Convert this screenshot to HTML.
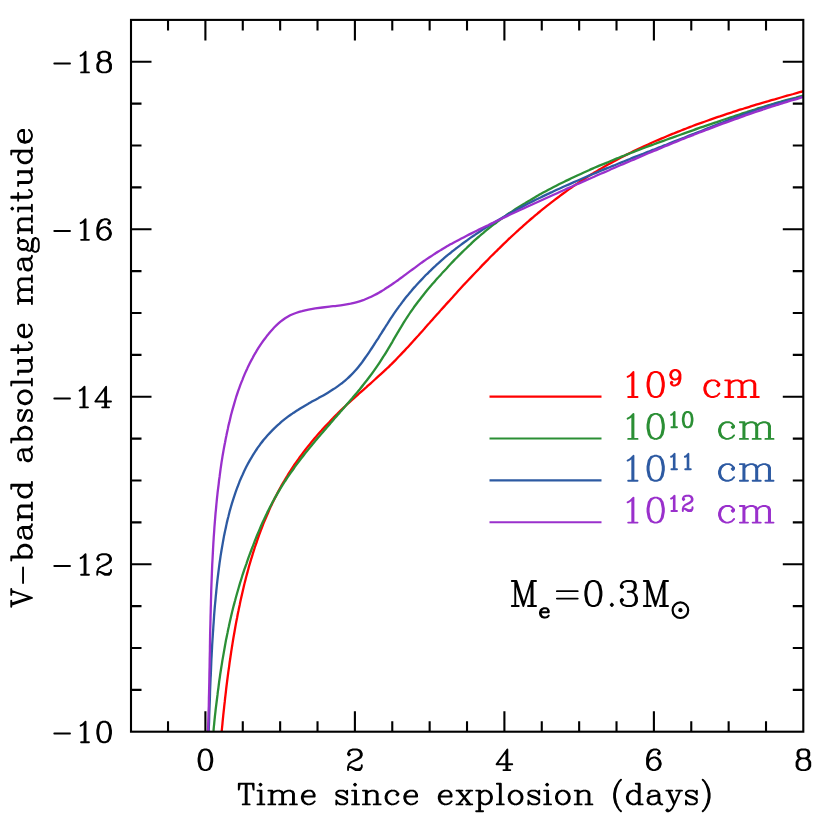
<!DOCTYPE html><html><head><meta charset="utf-8"><title>chart</title><style>html,body{margin:0;padding:0;background:#fff}svg{display:block}</style></head><body>
<svg width="830" height="822" viewBox="0 0 830 822">
<rect width="830" height="822" fill="#fff"/>
<defs><clipPath id="c"><rect x="131.0" y="19.9" width="672.3" height="711.8"/></clipPath></defs>
<g clip-path="url(#c)" fill="none" stroke-width="2.3" stroke-linejoin="round">
<path d="M220.5 745.1C220.6 743.8 220.9 740.2 221.1 737.7C221.3 735.3 221.6 732.8 221.8 730.4C222.0 728.0 222.3 725.5 222.5 723.1C222.7 720.7 223.0 718.2 223.2 715.8C223.5 713.4 223.7 711.0 224.0 708.6C224.2 706.2 224.5 703.8 224.8 701.4C225.0 699.0 225.3 696.6 225.6 694.2C225.9 691.8 226.1 689.4 226.4 687.0C226.7 684.7 227.0 682.3 227.3 679.9C227.6 677.5 227.9 675.2 228.2 672.8C228.5 670.5 228.9 668.1 229.2 665.8C229.5 663.4 229.8 661.1 230.2 658.8C230.5 656.4 230.9 654.1 231.2 651.8C231.6 649.5 231.9 647.2 232.3 644.9C232.7 642.6 233.0 640.3 233.4 638.0C233.8 635.7 234.2 633.4 234.6 631.2C235.0 628.9 235.4 626.7 235.8 624.4C236.2 622.1 236.6 619.9 237.1 617.7C237.5 615.4 237.9 613.2 238.4 611.0C238.8 608.8 239.3 606.6 239.8 604.4C240.2 602.2 240.7 600.0 241.2 597.8C241.7 595.6 242.2 593.4 242.7 591.3C243.2 589.1 243.7 587.0 244.2 584.8C244.7 582.7 245.3 580.6 245.8 578.4C246.4 576.3 246.9 574.2 247.5 572.1C248.1 570.0 248.6 567.9 249.2 565.8C249.8 563.8 250.4 561.7 251.0 559.6C251.7 557.6 252.3 555.5 252.9 553.5C253.5 551.5 254.2 549.5 254.8 547.4C255.5 545.4 256.2 543.4 256.9 541.5C257.5 539.5 258.2 537.5 258.9 535.5C259.7 533.6 260.4 531.6 261.1 529.7C261.8 527.8 262.6 525.9 263.3 523.9C264.1 522.0 264.9 520.1 265.7 518.3C266.5 516.4 267.3 514.5 268.1 512.7C268.9 510.8 269.7 509.0 270.5 507.1C271.4 505.3 272.2 503.5 273.1 501.7C274.0 499.9 274.9 498.1 275.8 496.4C276.7 494.6 277.6 492.8 278.5 491.1C279.4 489.4 280.4 487.7 281.3 485.9C282.3 484.2 283.3 482.5 284.3 480.9C285.3 479.2 286.3 477.5 287.3 475.9C288.3 474.2 289.3 472.6 290.4 471.0C291.4 469.3 292.5 467.7 293.5 466.1C294.6 464.5 295.7 463.0 296.8 461.4C297.9 459.8 299.0 458.3 300.1 456.7C301.3 455.2 302.4 453.7 303.5 452.1C304.7 450.6 305.9 449.1 307.0 447.6C308.2 446.1 309.4 444.7 310.6 443.2C311.8 441.7 313.0 440.3 314.2 438.8C315.4 437.4 316.7 435.9 317.9 434.5C319.1 433.1 320.4 431.7 321.7 430.3C322.9 428.9 324.2 427.5 325.5 426.1C326.8 424.7 328.1 423.3 329.4 422.0C330.7 420.6 332.0 419.2 333.3 417.9C334.6 416.5 335.9 415.2 337.3 413.9C338.6 412.6 340.0 411.2 341.3 409.9C342.7 408.6 344.1 407.3 345.4 406.0C346.8 404.7 348.2 403.4 349.6 402.2C351.0 400.9 352.4 399.6 353.8 398.4C355.2 397.1 356.6 395.8 358.0 394.6C359.4 393.3 360.8 392.1 362.2 390.8C363.6 389.6 365.0 388.3 366.5 387.1C367.9 385.8 369.3 384.6 370.7 383.3C372.1 382.1 373.5 380.8 374.9 379.5C376.3 378.3 377.7 377.0 379.1 375.7C380.5 374.5 381.9 373.2 383.3 371.9C384.7 370.6 386.1 369.3 387.4 368.0C388.8 366.7 390.1 365.4 391.5 364.1C392.8 362.8 394.2 361.4 395.5 360.1C396.8 358.7 398.1 357.4 399.4 356.0C400.7 354.7 402.0 353.3 403.3 351.9C404.6 350.5 405.9 349.2 407.2 347.8C408.5 346.4 409.7 345.0 411.0 343.6C412.3 342.2 413.5 340.8 414.8 339.4C416.1 338.0 417.3 336.6 418.6 335.2C419.8 333.8 421.1 332.4 422.4 331.0C423.6 329.5 424.9 328.1 426.1 326.7C427.4 325.3 428.6 323.9 429.9 322.5C431.1 321.1 432.4 319.7 433.6 318.2C434.9 316.8 436.2 315.4 437.4 314.0C438.7 312.6 439.9 311.2 441.2 309.8C442.4 308.4 443.7 307.0 445.0 305.6C446.2 304.2 447.5 302.8 448.8 301.4C450.0 300.0 451.3 298.6 452.6 297.2C453.8 295.8 455.1 294.4 456.4 293.0C457.6 291.6 458.9 290.2 460.2 288.8C461.5 287.4 462.8 286.0 464.0 284.6C465.3 283.3 466.6 281.9 467.9 280.5C469.2 279.1 470.5 277.7 471.8 276.4C473.1 275.0 474.4 273.6 475.7 272.3C477.0 270.9 478.3 269.5 479.6 268.2C480.9 266.8 482.2 265.5 483.5 264.1C484.8 262.7 486.1 261.4 487.5 260.1C488.8 258.7 490.1 257.4 491.4 256.0C492.8 254.7 494.1 253.4 495.4 252.0C496.8 250.7 498.1 249.4 499.5 248.1C500.8 246.8 502.2 245.4 503.5 244.1C504.9 242.8 506.3 241.5 507.6 240.2C509.0 238.9 510.4 237.6 511.7 236.3C513.1 235.1 514.5 233.8 515.9 232.5C517.3 231.2 518.7 230.0 520.1 228.7C521.5 227.4 522.9 226.2 524.3 224.9C525.7 223.7 527.1 222.4 528.6 221.2C530.0 219.9 531.4 218.7 532.9 217.5C534.3 216.2 535.8 215.0 537.2 213.8C538.7 212.6 540.1 211.4 541.6 210.2C543.1 209.0 544.5 207.8 546.0 206.6C547.5 205.4 549.0 204.3 550.5 203.1C552.0 201.9 553.5 200.8 555.0 199.6C556.5 198.4 558.0 197.3 559.6 196.2C561.1 195.0 562.6 193.9 564.2 192.8C565.7 191.6 567.3 190.5 568.8 189.4C570.4 188.3 572.0 187.2 573.5 186.1C575.1 185.0 576.7 184.0 578.3 182.9C579.9 181.8 581.5 180.8 583.1 179.7C584.7 178.7 586.3 177.6 588.0 176.6C589.6 175.5 591.3 174.5 592.9 173.5C594.6 172.5 596.2 171.5 597.9 170.5C599.6 169.5 601.2 168.5 602.9 167.5C604.6 166.6 606.3 165.6 608.0 164.6C609.7 163.7 611.5 162.7 613.2 161.8C614.9 160.8 616.6 159.9 618.4 159.0C620.1 158.1 621.9 157.1 623.6 156.2C625.4 155.3 627.2 154.4 628.9 153.5C630.7 152.6 632.5 151.8 634.3 150.9C636.1 150.0 637.9 149.2 639.7 148.3C641.5 147.4 643.3 146.6 645.1 145.7C647.0 144.9 648.8 144.1 650.6 143.2C652.5 142.4 654.3 141.6 656.2 140.8C658.0 140.0 659.9 139.2 661.8 138.4C663.6 137.6 665.5 136.8 667.4 136.0C669.3 135.2 671.2 134.4 673.1 133.7C675.0 132.9 676.9 132.1 678.8 131.4C680.7 130.6 682.6 129.9 684.5 129.1C686.4 128.4 688.4 127.6 690.3 126.9C692.2 126.2 694.2 125.4 696.1 124.7C698.1 124.0 700.0 123.3 702.0 122.6C703.9 121.9 705.9 121.2 707.9 120.5C709.8 119.8 711.8 119.1 713.8 118.4C715.8 117.7 717.8 117.0 719.8 116.4C721.7 115.7 723.7 115.0 725.7 114.3C727.7 113.7 729.8 113.0 731.8 112.4C733.8 111.7 735.8 111.1 737.8 110.4C739.8 109.8 741.9 109.1 743.9 108.5C745.9 107.9 748.0 107.2 750.0 106.6C752.0 106.0 754.1 105.3 756.1 104.7C758.2 104.1 760.2 103.5 762.3 102.9C764.3 102.3 766.4 101.7 768.5 101.1C770.5 100.4 772.6 99.8 774.7 99.3C776.7 98.7 778.8 98.1 780.9 97.5C782.9 96.9 785.0 96.3 787.1 95.7C789.2 95.1 791.3 94.5 793.4 94.0C795.5 93.4 797.5 92.8 799.6 92.2C801.7 91.7 803.8 91.1 805.9 90.5C808.0 90.0 810.9 89.2 812.2 88.8C813.6 88.5 813.9 88.4 814.2 88.3" stroke="#ff0000"/>
<path d="M212.1 745.5C212.2 744.3 212.5 740.6 212.8 738.2C213.0 735.7 213.2 733.3 213.5 730.9C213.7 728.4 213.9 726.0 214.2 723.6C214.4 721.2 214.7 718.7 214.9 716.3C215.2 713.9 215.5 711.5 215.7 709.1C216.0 706.7 216.3 704.4 216.6 702.0C216.9 699.6 217.2 697.2 217.5 694.9C217.7 692.5 218.1 690.1 218.4 687.8C218.7 685.4 219.0 683.1 219.3 680.7C219.7 678.4 220.0 676.1 220.3 673.7C220.7 671.4 221.0 669.1 221.4 666.8C221.8 664.5 222.1 662.2 222.5 659.9C222.9 657.6 223.3 655.3 223.7 653.1C224.1 650.8 224.5 648.5 224.9 646.3C225.3 644.0 225.7 641.8 226.1 639.5C226.6 637.3 227.0 635.1 227.5 632.9C227.9 630.7 228.4 628.4 228.9 626.3C229.3 624.1 229.8 621.9 230.3 619.7C230.8 617.5 231.3 615.4 231.8 613.2C232.3 611.1 232.9 608.9 233.4 606.8C234.0 604.7 234.5 602.6 235.1 600.5C235.6 598.4 236.2 596.3 236.8 594.2C237.4 592.1 238.0 590.0 238.6 588.0C239.2 585.9 239.8 583.9 240.4 581.8C241.1 579.8 241.7 577.8 242.3 575.7C243.0 573.7 243.7 571.7 244.3 569.7C245.0 567.7 245.7 565.7 246.4 563.8C247.0 561.8 247.7 559.8 248.4 557.8C249.1 555.9 249.9 553.9 250.6 552.0C251.3 550.0 252.0 548.1 252.8 546.2C253.5 544.3 254.3 542.3 255.0 540.4C255.8 538.5 256.6 536.6 257.3 534.7C258.1 532.9 258.9 531.0 259.7 529.1C260.5 527.2 261.3 525.4 262.1 523.5C263.0 521.7 263.8 519.9 264.7 518.1C265.5 516.2 266.4 514.4 267.2 512.6C268.1 510.8 269.0 509.1 269.9 507.3C270.8 505.5 271.7 503.8 272.6 502.0C273.6 500.3 274.5 498.6 275.5 496.9C276.4 495.2 277.4 493.5 278.4 491.8C279.4 490.1 280.4 488.5 281.4 486.8C282.4 485.2 283.5 483.5 284.5 481.9C285.6 480.3 286.6 478.7 287.7 477.1C288.8 475.5 289.9 473.9 291.0 472.4C292.1 470.8 293.2 469.2 294.3 467.7C295.4 466.1 296.5 464.6 297.7 463.1C298.8 461.6 300.0 460.0 301.1 458.5C302.3 457.0 303.5 455.5 304.6 454.0C305.8 452.5 307.0 451.1 308.2 449.6C309.4 448.1 310.6 446.6 311.8 445.2C313.0 443.7 314.2 442.3 315.4 440.8C316.6 439.4 317.8 437.9 319.1 436.5C320.3 435.0 321.5 433.6 322.8 432.2C324.0 430.7 325.2 429.3 326.5 427.9C327.7 426.4 328.9 425.0 330.2 423.6C331.4 422.2 332.7 420.7 333.9 419.3C335.1 417.9 336.4 416.5 337.6 415.0C338.9 413.6 340.1 412.2 341.4 410.8C342.6 409.3 343.9 407.9 345.1 406.5C346.3 405.1 347.6 403.6 348.8 402.2C350.0 400.8 351.3 399.3 352.5 397.9C353.7 396.5 354.9 395.0 356.2 393.6C357.4 392.1 358.6 390.6 359.8 389.2C361.0 387.7 362.2 386.2 363.3 384.7C364.5 383.3 365.7 381.8 366.9 380.3C368.0 378.8 369.2 377.2 370.3 375.7C371.5 374.2 372.6 372.7 373.7 371.1C374.8 369.6 375.9 368.0 377.0 366.4C378.1 364.8 379.2 363.2 380.2 361.6C381.3 360.0 382.3 358.4 383.3 356.7C384.4 355.1 385.4 353.5 386.4 351.8C387.4 350.1 388.4 348.5 389.4 346.8C390.4 345.1 391.4 343.4 392.4 341.8C393.3 340.1 394.3 338.4 395.3 336.7C396.3 335.0 397.3 333.4 398.3 331.7C399.3 330.0 400.3 328.3 401.3 326.7C402.3 325.0 403.3 323.4 404.3 321.7C405.3 320.1 406.4 318.4 407.4 316.8C408.5 315.2 409.6 313.6 410.6 312.0C411.7 310.5 412.8 308.9 413.9 307.3C415.0 305.8 416.2 304.2 417.3 302.7C418.5 301.2 419.6 299.7 420.8 298.2C422.0 296.7 423.1 295.2 424.3 293.7C425.5 292.3 426.7 290.8 427.9 289.3C429.2 287.9 430.4 286.4 431.6 285.0C432.8 283.6 434.1 282.2 435.3 280.7C436.6 279.3 437.8 277.9 439.1 276.5C440.4 275.1 441.6 273.7 442.9 272.3C444.2 270.9 445.5 269.5 446.8 268.2C448.0 266.8 449.3 265.4 450.6 264.0C451.9 262.7 453.2 261.3 454.5 259.9C455.9 258.6 457.2 257.2 458.5 255.9C459.8 254.6 461.2 253.2 462.5 251.9C463.8 250.6 465.2 249.3 466.6 248.0C467.9 246.6 469.3 245.3 470.7 244.1C472.0 242.8 473.4 241.5 474.8 240.2C476.2 239.0 477.6 237.7 479.1 236.5C480.5 235.2 481.9 234.0 483.4 232.8C484.8 231.6 486.3 230.4 487.8 229.2C489.2 228.0 490.7 226.8 492.2 225.6C493.7 224.5 495.2 223.3 496.8 222.2C498.3 221.0 499.8 219.9 501.4 218.8C502.9 217.7 504.5 216.6 506.1 215.5C507.6 214.4 509.2 213.3 510.8 212.2C512.4 211.1 514.0 210.1 515.6 209.0C517.2 208.0 518.9 206.9 520.5 205.9C522.1 204.9 523.8 203.9 525.5 202.9C527.1 201.8 528.8 200.8 530.5 199.9C532.1 198.9 533.8 197.9 535.5 196.9C537.2 195.9 538.9 195.0 540.6 194.0C542.3 193.1 544.1 192.1 545.8 191.2C547.5 190.3 549.3 189.3 551.0 188.4C552.8 187.5 554.5 186.6 556.3 185.7C558.1 184.8 559.8 183.9 561.6 183.0C563.4 182.1 565.2 181.3 567.0 180.4C568.8 179.5 570.6 178.7 572.4 177.8C574.2 176.9 576.0 176.1 577.8 175.2C579.7 174.4 581.5 173.6 583.3 172.7C585.2 171.9 587.0 171.1 588.9 170.3C590.7 169.4 592.6 168.6 594.4 167.8C596.3 167.0 598.2 166.2 600.0 165.4C601.9 164.6 603.8 163.8 605.7 163.1C607.5 162.3 609.4 161.5 611.3 160.7C613.2 159.9 615.1 159.2 617.0 158.4C618.9 157.6 620.8 156.9 622.7 156.1C624.6 155.4 626.6 154.6 628.5 153.9C630.4 153.1 632.3 152.4 634.2 151.6C636.2 150.9 638.1 150.2 640.0 149.4C642.0 148.7 643.9 148.0 645.8 147.2C647.8 146.5 649.7 145.8 651.7 145.1C653.6 144.4 655.6 143.6 657.5 142.9C659.5 142.2 661.4 141.5 663.4 140.8C665.4 140.1 667.3 139.4 669.3 138.7C671.2 138.0 673.2 137.3 675.2 136.6C677.1 135.9 679.1 135.2 681.1 134.5C683.0 133.8 685.0 133.1 687.0 132.4C689.0 131.7 690.9 131.0 692.9 130.3C694.9 129.6 696.9 128.9 698.8 128.2C700.8 127.5 702.8 126.9 704.8 126.2C706.8 125.5 708.7 124.8 710.7 124.1C712.7 123.4 714.7 122.7 716.7 122.1C718.7 121.4 720.6 120.7 722.6 120.0C724.6 119.4 726.6 118.7 728.6 118.0C730.6 117.3 732.6 116.7 734.6 116.0C736.6 115.3 738.6 114.7 740.6 114.0C742.6 113.4 744.6 112.7 746.7 112.1C748.7 111.4 750.7 110.8 752.7 110.1C754.8 109.5 756.8 108.8 758.8 108.2C760.9 107.6 762.9 107.0 764.9 106.3C767.0 105.7 769.0 105.1 771.1 104.5C773.2 103.9 775.2 103.3 777.3 102.7C779.4 102.1 781.4 101.5 783.5 100.9C785.6 100.3 787.7 99.7 789.8 99.2C791.9 98.6 794.0 98.0 796.1 97.5C798.2 96.9 800.3 96.4 802.4 95.8C804.6 95.3 806.8 94.7 808.8 94.2C810.9 93.7 813.7 93.1 814.6 92.8" stroke="#2b8f35"/>
<path d="M208.3 744.4C208.3 743.1 208.5 739.2 208.6 736.7C208.6 734.1 208.7 731.5 208.8 728.9C208.9 726.3 209.0 723.7 209.1 721.2C209.2 718.6 209.2 716.0 209.3 713.4C209.4 710.8 209.5 708.3 209.6 705.7C209.7 703.1 209.8 700.5 209.9 698.0C210.0 695.4 210.0 692.8 210.1 690.2C210.2 687.7 210.3 685.1 210.4 682.5C210.5 680.0 210.6 677.4 210.8 674.9C210.9 672.3 211.0 669.7 211.1 667.2C211.2 664.6 211.3 662.1 211.4 659.5C211.6 657.0 211.7 654.5 211.8 651.9C212.0 649.4 212.1 646.9 212.2 644.3C212.4 641.8 212.5 639.3 212.7 636.8C212.8 634.3 213.0 631.8 213.2 629.3C213.3 626.8 213.5 624.3 213.7 621.8C213.9 619.3 214.0 616.8 214.2 614.3C214.4 611.9 214.6 609.4 214.8 606.9C215.0 604.5 215.3 602.0 215.5 599.6C215.7 597.1 215.9 594.7 216.2 592.3C216.4 589.8 216.7 587.4 216.9 585.0C217.2 582.6 217.4 580.2 217.7 577.8C218.0 575.4 218.3 573.1 218.6 570.7C218.9 568.3 219.2 566.0 219.5 563.6C219.8 561.3 220.2 558.9 220.5 556.6C220.9 554.3 221.2 552.0 221.6 549.7C222.0 547.4 222.4 545.1 222.8 542.9C223.2 540.6 223.6 538.4 224.0 536.1C224.5 533.9 224.9 531.7 225.4 529.5C225.9 527.3 226.3 525.1 226.8 522.9C227.3 520.8 227.8 518.6 228.4 516.5C228.9 514.4 229.5 512.2 230.0 510.1C230.6 508.0 231.2 506.0 231.8 503.9C232.4 501.9 233.1 499.8 233.7 497.8C234.4 495.8 235.0 493.8 235.7 491.8C236.4 489.9 237.1 487.9 237.9 486.0C238.6 484.0 239.4 482.1 240.1 480.2C240.9 478.4 241.7 476.5 242.6 474.7C243.4 472.8 244.2 471.0 245.1 469.2C246.0 467.4 246.9 465.7 247.8 463.9C248.8 462.2 249.7 460.5 250.7 458.8C251.7 457.1 252.7 455.5 253.7 453.8C254.8 452.2 255.8 450.6 256.9 449.0C258.0 447.4 259.1 445.9 260.2 444.3C261.4 442.8 262.6 441.3 263.7 439.8C264.9 438.4 266.2 436.9 267.4 435.5C268.7 434.1 270.0 432.7 271.3 431.4C272.6 430.0 273.9 428.7 275.3 427.4C276.6 426.1 278.0 424.8 279.5 423.6C280.9 422.3 282.3 421.1 283.8 419.9C285.3 418.7 286.8 417.6 288.3 416.4C289.9 415.3 291.4 414.2 293.0 413.1C294.6 412.1 296.2 411.0 297.9 410.0C299.5 408.9 301.1 407.9 302.8 406.9C304.5 405.9 306.2 404.9 307.9 404.0C309.6 403.0 311.3 402.1 313.0 401.1C314.7 400.2 316.5 399.2 318.2 398.3C319.9 397.3 321.6 396.4 323.3 395.4C325.0 394.4 326.7 393.4 328.3 392.4C330.0 391.4 331.6 390.4 333.2 389.3C334.9 388.3 336.4 387.2 338.0 386.1C339.6 385.0 341.1 383.8 342.6 382.7C344.1 381.5 345.5 380.3 346.9 379.0C348.3 377.8 349.7 376.5 351.0 375.1C352.4 373.8 353.7 372.4 354.9 371.0C356.2 369.6 357.4 368.2 358.6 366.7C359.8 365.2 360.9 363.7 362.1 362.2C363.2 360.7 364.3 359.1 365.4 357.5C366.5 356.0 367.6 354.4 368.7 352.8C369.8 351.2 370.8 349.6 371.9 348.0C373.0 346.4 374.0 344.8 375.0 343.1C376.1 341.5 377.1 339.9 378.2 338.3C379.2 336.6 380.2 335.0 381.3 333.4C382.3 331.7 383.3 330.1 384.4 328.5C385.4 326.8 386.4 325.2 387.5 323.6C388.5 322.0 389.6 320.3 390.6 318.7C391.7 317.1 392.8 315.5 393.8 313.9C394.9 312.4 396.0 310.8 397.1 309.2C398.2 307.7 399.3 306.1 400.5 304.6C401.6 303.0 402.8 301.5 403.9 300.0C405.1 298.5 406.3 297.0 407.5 295.6C408.7 294.1 409.9 292.6 411.1 291.2C412.3 289.7 413.5 288.3 414.8 286.9C416.0 285.5 417.3 284.1 418.6 282.7C419.9 281.3 421.2 279.9 422.5 278.6C423.8 277.2 425.1 275.9 426.4 274.5C427.8 273.2 429.1 271.9 430.5 270.6C431.8 269.2 433.2 268.0 434.6 266.7C435.9 265.4 437.3 264.1 438.8 262.9C440.2 261.6 441.6 260.3 443.0 259.1C444.4 257.9 445.9 256.7 447.3 255.4C448.8 254.2 450.3 253.0 451.7 251.8C453.2 250.7 454.7 249.5 456.2 248.3C457.7 247.2 459.2 246.0 460.8 244.9C462.3 243.7 463.8 242.6 465.4 241.5C466.9 240.3 468.5 239.2 470.0 238.1C471.6 237.0 473.2 235.9 474.8 234.9C476.3 233.8 477.9 232.7 479.6 231.7C481.2 230.6 482.8 229.5 484.4 228.5C486.0 227.5 487.7 226.4 489.3 225.4C491.0 224.4 492.6 223.4 494.3 222.4C495.9 221.4 497.6 220.4 499.3 219.4C501.0 218.4 502.7 217.4 504.4 216.5C506.1 215.5 507.8 214.5 509.5 213.6C511.2 212.6 512.9 211.7 514.6 210.7C516.4 209.8 518.1 208.9 519.9 208.0C521.6 207.0 523.4 206.1 525.1 205.2C526.9 204.3 528.6 203.4 530.4 202.5C532.2 201.6 534.0 200.7 535.7 199.8C537.5 199.0 539.3 198.1 541.1 197.2C542.9 196.3 544.7 195.5 546.5 194.6C548.3 193.8 550.1 192.9 552.0 192.1C553.8 191.2 555.6 190.4 557.4 189.5C559.3 188.7 561.1 187.9 562.9 187.0C564.8 186.2 566.6 185.4 568.5 184.6C570.3 183.8 572.2 182.9 574.0 182.1C575.9 181.3 577.8 180.5 579.6 179.7C581.5 178.9 583.3 178.1 585.2 177.3C587.1 176.5 589.0 175.7 590.8 174.9C592.7 174.1 594.6 173.4 596.5 172.6C598.4 171.8 600.2 171.0 602.1 170.2C604.0 169.5 605.9 168.7 607.8 167.9C609.7 167.1 611.6 166.4 613.5 165.6C615.4 164.8 617.3 164.1 619.2 163.3C621.1 162.5 623.0 161.8 624.9 161.0C626.8 160.2 628.7 159.5 630.6 158.7C632.5 158.0 634.4 157.2 636.3 156.4C638.3 155.7 640.2 154.9 642.1 154.2C644.0 153.4 645.9 152.7 647.8 151.9C649.7 151.2 651.6 150.4 653.6 149.7C655.5 148.9 657.4 148.2 659.3 147.4C661.2 146.7 663.1 145.9 665.1 145.2C667.0 144.4 668.9 143.7 670.8 142.9C672.7 142.2 674.6 141.4 676.5 140.6C678.5 139.9 680.4 139.1 682.3 138.4C684.2 137.6 686.1 136.9 688.0 136.1C689.9 135.4 691.8 134.6 693.8 133.9C695.7 133.1 697.6 132.3 699.5 131.6C701.4 130.8 703.3 130.1 705.2 129.3C707.1 128.5 709.0 127.8 710.9 127.0C712.8 126.3 714.7 125.5 716.6 124.7C718.5 124.0 720.5 123.2 722.4 122.5C724.3 121.7 726.2 121.0 728.1 120.2C730.1 119.5 732.0 118.7 733.9 118.0C735.8 117.3 737.8 116.5 739.7 115.8C741.7 115.1 743.6 114.4 745.6 113.7C747.5 113.0 749.5 112.3 751.5 111.6C753.4 110.9 755.4 110.2 757.4 109.5C759.4 108.8 761.4 108.2 763.4 107.5C765.4 106.8 767.4 106.2 769.5 105.6C771.5 104.9 773.5 104.3 775.6 103.7C777.7 103.1 779.7 102.5 781.8 101.9C783.9 101.3 786.0 100.8 788.1 100.2C790.2 99.7 792.3 99.1 794.5 98.6C796.6 98.1 798.8 97.6 801.0 97.1C803.1 96.6 805.3 96.1 807.5 95.6C809.8 95.2 813.0 94.6 814.2 94.3C815.5 94.1 814.9 94.2 815.1 94.2" stroke="#2d5aa2"/>
<path d="M207.5 744.6C207.5 743.3 207.7 739.5 207.8 736.9C207.9 734.3 208.0 731.7 208.1 729.2C208.2 726.6 208.2 724.0 208.3 721.4C208.4 718.8 208.5 716.2 208.5 713.6C208.6 711.1 208.7 708.5 208.8 705.9C208.8 703.3 208.9 700.6 208.9 698.0C209.0 695.4 209.1 692.8 209.1 690.2C209.2 687.6 209.2 685.0 209.3 682.4C209.3 679.8 209.4 677.1 209.4 674.5C209.5 671.9 209.5 669.3 209.6 666.7C209.6 664.1 209.7 661.4 209.7 658.8C209.8 656.2 209.8 653.6 209.9 651.0C209.9 648.3 209.9 645.7 210.0 643.1C210.0 640.5 210.1 637.9 210.1 635.2C210.2 632.6 210.2 630.0 210.3 627.4C210.4 624.8 210.4 622.2 210.5 619.6C210.5 617.0 210.6 614.4 210.7 611.8C210.7 609.1 210.8 606.5 210.9 604.0C210.9 601.4 211.0 598.8 211.1 596.2C211.2 593.6 211.2 591.0 211.3 588.4C211.4 585.8 211.5 583.3 211.6 580.7C211.7 578.1 211.8 575.6 211.9 573.0C212.0 570.4 212.1 567.9 212.2 565.3C212.3 562.8 212.5 560.2 212.6 557.7C212.7 555.2 212.9 552.6 213.0 550.1C213.1 547.6 213.3 545.0 213.4 542.5C213.6 540.0 213.7 537.5 213.9 535.0C214.1 532.5 214.3 530.0 214.4 527.5C214.6 525.1 214.8 522.6 215.0 520.1C215.2 517.6 215.4 515.2 215.6 512.7C215.9 510.3 216.1 507.8 216.3 505.4C216.5 503.0 216.8 500.5 217.0 498.1C217.3 495.7 217.5 493.3 217.8 490.9C218.1 488.5 218.4 486.1 218.7 483.8C218.9 481.4 219.2 479.0 219.6 476.7C219.9 474.3 220.2 472.0 220.5 469.6C220.8 467.3 221.2 465.0 221.5 462.6C221.9 460.3 222.3 458.0 222.6 455.7C223.0 453.5 223.4 451.2 223.8 448.9C224.2 446.6 224.6 444.4 225.1 442.2C225.5 439.9 225.9 437.7 226.4 435.5C226.8 433.3 227.3 431.1 227.8 428.9C228.2 426.7 228.7 424.5 229.3 422.4C229.8 420.2 230.3 418.1 230.8 415.9C231.4 413.8 231.9 411.7 232.5 409.6C233.1 407.5 233.7 405.4 234.3 403.4C234.9 401.3 235.5 399.3 236.1 397.2C236.8 395.2 237.5 393.2 238.1 391.2C238.8 389.3 239.5 387.3 240.2 385.3C241.0 383.4 241.7 381.5 242.5 379.6C243.2 377.7 244.0 375.8 244.8 373.9C245.6 372.1 246.4 370.2 247.3 368.4C248.1 366.6 249.0 364.8 249.9 363.0C250.8 361.2 251.7 359.5 252.7 357.8C253.6 356.0 254.6 354.3 255.6 352.7C256.5 351.0 257.6 349.3 258.6 347.7C259.6 346.1 260.7 344.5 261.8 342.9C262.9 341.3 264.0 339.8 265.2 338.3C266.3 336.7 267.5 335.2 268.7 333.8C269.9 332.3 271.1 330.9 272.4 329.5C273.6 328.1 274.9 326.7 276.3 325.4C277.7 324.1 279.1 322.8 280.5 321.6C282.0 320.4 283.5 319.3 285.1 318.2C286.8 317.2 288.5 316.2 290.2 315.3C292.0 314.5 293.9 313.7 295.9 313.0C297.8 312.3 299.9 311.6 302.0 311.1C304.1 310.5 306.3 310.0 308.5 309.6C310.7 309.2 313.0 308.8 315.3 308.4C317.6 308.1 320.0 307.8 322.4 307.5C324.7 307.2 327.1 306.9 329.5 306.6C331.9 306.3 334.3 306.1 336.7 305.8C339.1 305.5 341.4 305.2 343.7 304.8C346.0 304.5 348.3 304.1 350.6 303.7C352.8 303.2 354.9 302.7 357.0 302.1C359.1 301.5 361.1 300.9 363.1 300.2C365.0 299.4 366.9 298.7 368.7 297.8C370.6 297.0 372.4 296.1 374.1 295.2C375.9 294.3 377.6 293.4 379.3 292.4C381.0 291.4 382.6 290.4 384.3 289.4C385.9 288.3 387.5 287.3 389.1 286.2C390.7 285.2 392.3 284.1 393.9 283.0C395.5 281.9 397.0 280.8 398.6 279.7C400.1 278.6 401.7 277.4 403.2 276.3C404.8 275.2 406.3 274.0 407.8 272.9C409.3 271.8 410.9 270.6 412.4 269.5C413.9 268.4 415.5 267.2 417.0 266.1C418.5 265.0 420.1 263.8 421.6 262.7C423.2 261.6 424.7 260.5 426.3 259.4C427.9 258.3 429.5 257.2 431.1 256.2C432.7 255.1 434.3 254.1 435.9 253.0C437.6 252.0 439.2 251.0 440.9 250.0C442.5 249.0 444.2 248.0 445.9 247.0C447.6 246.0 449.3 245.1 451.0 244.1C452.7 243.2 454.4 242.2 456.2 241.3C457.9 240.3 459.7 239.4 461.4 238.5C463.2 237.6 464.9 236.7 466.7 235.8C468.4 234.9 470.2 234.0 472.0 233.1C473.8 232.2 475.5 231.3 477.3 230.4C479.1 229.5 480.9 228.7 482.7 227.8C484.5 226.9 486.3 226.0 488.1 225.2C489.9 224.3 491.7 223.4 493.5 222.6C495.3 221.7 497.1 220.8 498.9 220.0C500.7 219.1 502.5 218.3 504.3 217.4C506.1 216.5 507.9 215.7 509.7 214.8C511.5 214.0 513.4 213.1 515.2 212.3C517.0 211.4 518.8 210.6 520.6 209.7C522.5 208.9 524.3 208.1 526.1 207.2C527.9 206.4 529.8 205.5 531.6 204.7C533.4 203.9 535.3 203.0 537.1 202.2C538.9 201.4 540.8 200.5 542.6 199.7C544.4 198.9 546.3 198.0 548.1 197.2C549.9 196.4 551.8 195.5 553.6 194.7C555.5 193.9 557.3 193.1 559.1 192.2C561.0 191.4 562.8 190.6 564.7 189.8C566.5 188.9 568.4 188.1 570.2 187.3C572.0 186.5 573.9 185.7 575.7 184.8C577.6 184.0 579.4 183.2 581.3 182.4C583.1 181.6 585.0 180.7 586.8 179.9C588.7 179.1 590.5 178.3 592.4 177.5C594.2 176.7 596.1 175.9 597.9 175.0C599.8 174.2 601.6 173.4 603.5 172.6C605.3 171.8 607.2 171.0 609.1 170.2C610.9 169.3 612.8 168.5 614.6 167.7C616.5 166.9 618.3 166.1 620.2 165.3C622.1 164.5 623.9 163.7 625.8 162.9C627.6 162.1 629.5 161.3 631.4 160.5C633.2 159.7 635.1 158.9 637.0 158.1C638.8 157.3 640.7 156.5 642.6 155.7C644.5 154.9 646.3 154.1 648.2 153.3C650.1 152.5 652.0 151.7 653.8 150.9C655.7 150.2 657.6 149.4 659.5 148.6C661.4 147.8 663.3 147.0 665.1 146.2C667.0 145.5 668.9 144.7 670.8 143.9C672.7 143.1 674.6 142.4 676.5 141.6C678.4 140.8 680.3 140.1 682.2 139.3C684.1 138.5 686.0 137.8 687.9 137.0C689.8 136.3 691.7 135.5 693.7 134.8C695.6 134.0 697.5 133.2 699.4 132.5C701.3 131.8 703.2 131.0 705.2 130.3C707.1 129.5 709.0 128.8 711.0 128.1C712.9 127.3 714.8 126.6 716.8 125.9C718.7 125.1 720.7 124.4 722.6 123.7C724.5 123.0 726.5 122.3 728.5 121.6C730.4 120.8 732.4 120.1 734.3 119.4C736.3 118.7 738.3 118.0 740.2 117.3C742.2 116.6 744.2 115.9 746.1 115.2C748.1 114.6 750.1 113.9 752.1 113.2C754.1 112.5 756.1 111.8 758.1 111.2C760.1 110.5 762.1 109.8 764.1 109.2C766.1 108.5 768.1 107.8 770.1 107.2C772.1 106.5 774.1 105.9 776.1 105.2C778.2 104.6 780.2 103.9 782.2 103.3C784.2 102.7 786.3 102.0 788.3 101.4C790.4 100.8 792.4 100.2 794.5 99.6C796.5 98.9 798.6 98.3 800.6 97.7C802.7 97.1 804.8 96.5 806.8 95.9C808.9 95.3 811.9 94.5 813.1 94.2C814.3 93.8 813.8 94.0 813.9 93.9" stroke="#9a30cc"/>
</g>
<path d="M168.03 731.70v-10.5M168.03 19.90v10.5M205.40 731.70v-20.5M205.40 19.90v20.5M242.78 731.70v-10.5M242.78 19.90v10.5M280.15 731.70v-10.5M280.15 19.90v10.5M317.52 731.70v-10.5M317.52 19.90v10.5M354.90 731.70v-20.5M354.90 19.90v20.5M392.27 731.70v-10.5M392.27 19.90v10.5M429.65 731.70v-10.5M429.65 19.90v10.5M467.02 731.70v-10.5M467.02 19.90v10.5M504.40 731.70v-20.5M504.40 19.90v20.5M541.77 731.70v-10.5M541.77 19.90v10.5M579.15 731.70v-10.5M579.15 19.90v10.5M616.52 731.70v-10.5M616.52 19.90v10.5M653.90 731.70v-20.5M653.90 19.90v20.5M691.27 731.70v-10.5M691.27 19.90v10.5M728.65 731.70v-10.5M728.65 19.90v10.5M766.02 731.70v-10.5M766.02 19.90v10.5M131.00 689.83h10.5M803.30 689.83h-10.5M131.00 647.96h10.5M803.30 647.96h-10.5M131.00 606.09h10.5M803.30 606.09h-10.5M131.00 564.22h20.5M803.30 564.22h-20.5M131.00 522.35h10.5M803.30 522.35h-10.5M131.00 480.48h10.5M803.30 480.48h-10.5M131.00 438.61h10.5M803.30 438.61h-10.5M131.00 396.74h20.5M803.30 396.74h-20.5M131.00 354.87h10.5M803.30 354.87h-10.5M131.00 313.00h10.5M803.30 313.00h-10.5M131.00 271.13h10.5M803.30 271.13h-10.5M131.00 229.26h20.5M803.30 229.26h-20.5M131.00 187.39h10.5M803.30 187.39h-10.5M131.00 145.52h10.5M803.30 145.52h-10.5M131.00 103.65h10.5M803.30 103.65h-10.5M131.00 61.78h20.5M803.30 61.78h-20.5" stroke="#000" stroke-width="2.1" fill="none"/>
<rect x="131.00" y="19.90" width="672.30" height="711.80" fill="none" stroke="#000" stroke-width="2.1"/>
<g fill="none" stroke-linecap="round" stroke-linejoin="round">
<path transform="translate(74.74,742.30) scale(0.9800,0.9800)" d="M11 0l0 -21l-3 3l-2 1M10 -20l0 20M6.5 0l8 0M31 0l3 -1l2 -3l1 -5l0 -3l-1 -5l-2 -3l-3 -1l2 1l1 1l1 2l1 5l0 3l-1 5l-1 2l-1 1l-2 1l-2 0l-3 -1l-2 -3l-1 -5l0 -3l1 -5l2 -3l3 -1l-2 1l-1 1l-1 2l-1 5l0 3l1 5l1 2l1 1l2 1M31 -21l-2 0" stroke="#000" stroke-width="1.939"/>
<path transform="translate(49.40,742.30) scale(0.9800,0.9800)" d="M5 -9l16 0" stroke="#000" stroke-width="1.939"/>
<path transform="translate(74.74,574.82) scale(0.9800,0.9800)" d="M11 0l0 -21l-3 3l-2 1M10 -20l0 20M6.5 0l8 0M26 -3l5 3l4 0l1 -1l1 -2l0 -2M26 -3l5 2l3 0l2 -1l1 -1M26 -3l-2 0l-1 1M28 -9l5 -2l3 -2l1 -2l0 -2l-1 -2l-1 -1l-3 -1l-4 0l-3 1l-1 1l-1 2l0 1l1 1l1 -1l-1 -1M32 -21l2 1l1 1l1 2l0 2l-1 2l-3 2l-6 3l-2 2l-1 3l0 3" stroke="#000" stroke-width="1.939"/>
<path transform="translate(49.40,574.82) scale(0.9800,0.9800)" d="M5 -9l16 0" stroke="#000" stroke-width="1.939"/>
<path transform="translate(73.76,407.34) scale(0.9800,0.9800)" d="M11 0l0 -21l-3 3l-2 1M10 -20l0 20M6.5 0l8 0M33 0l0 -21l-11 15l16 0M32 -19l0 19M29 0l7 0" stroke="#000" stroke-width="1.939"/>
<path transform="translate(49.40,407.34) scale(0.9800,0.9800)" d="M5 -9l16 0" stroke="#000" stroke-width="1.939"/>
<path transform="translate(74.74,239.86) scale(0.9800,0.9800)" d="M11 0l0 -21l-3 3l-2 1M10 -20l0 20M6.5 0l8 0M31 0l3 -1l2 -2l1 -3l0 -1l-1 -3l-2 -2l-3 -1l2 1l2 2l1 3l0 1l-1 3l-2 2l-2 1l-2 0l-3 -1l-2 -2l-1 -3l0 -6l1 -4l1 -2l2 -2l3 -1l3 0l2 1l1 2l0 1l-1 1l-1 -1l1 -1M29 0l-2 -1l-2 -2l-1 -3l0 -6l1 -4l1 -2l2 -2l2 -1M24 -7l1 -3l2 -2l3 -1l1 0" stroke="#000" stroke-width="1.939"/>
<path transform="translate(49.40,239.86) scale(0.9800,0.9800)" d="M5 -9l16 0" stroke="#000" stroke-width="1.939"/>
<path transform="translate(74.74,72.38) scale(0.9800,0.9800)" d="M11 0l0 -21l-3 3l-2 1M10 -20l0 20M6.5 0l8 0M28 0l4 0l3 -1l1 -1l1 -2l0 -4l-1 -2l-1 -1l-3 -1l-4 0l-3 1l-1 1l-1 2l0 4l1 2l1 1l3 1l-2 -1l-1 -1l-1 -2l0 -4l1 -2l1 -1l2 -1l-3 -1l-1 -2l0 -3l1 -2l3 -1l4 0l3 1l1 2l0 3l-1 2l-3 1l2 1l1 1l1 2l0 4l-1 2l-1 1l-2 1M28 -12l-2 -1l-1 -2l0 -3l1 -2l2 -1M32 -12l2 -1l1 -2l0 -3l-1 -2l-2 -1" stroke="#000" stroke-width="1.939"/>
<path transform="translate(49.40,72.38) scale(0.9800,0.9800)" d="M5 -9l16 0" stroke="#000" stroke-width="1.939"/>
<path transform="translate(195.60,770.10) scale(0.9800,0.9800)" d="M11 0l3 -1l2 -3l1 -5l0 -3l-1 -5l-2 -3l-3 -1l2 1l1 1l1 2l1 5l0 3l-1 5l-1 2l-1 1l-2 1l-2 0l-3 -1l-2 -3l-1 -5l0 -3l1 -5l2 -3l3 -1l-2 1l-1 1l-1 2l-1 5l0 3l1 5l1 2l1 1l2 1M11 -21l-2 0" stroke="#000" stroke-width="1.939"/>
<path transform="translate(345.10,770.10) scale(0.9800,0.9800)" d="M6 -3l5 3l4 0l1 -1l1 -2l0 -2M6 -3l5 2l3 0l2 -1l1 -1M6 -3l-2 0l-1 1M8 -9l5 -2l3 -2l1 -2l0 -2l-1 -2l-1 -1l-3 -1l-4 0l-3 1l-1 1l-1 2l0 1l1 1l1 -1l-1 -1M12 -21l2 1l1 1l1 2l0 2l-1 2l-3 2l-6 3l-2 2l-1 3l0 3" stroke="#000" stroke-width="1.939"/>
<path transform="translate(494.60,770.10) scale(0.9800,0.9800)" d="M13 0l0 -21l-11 15l16 0M12 -19l0 19M9 0l7 0" stroke="#000" stroke-width="1.939"/>
<path transform="translate(644.10,770.10) scale(0.9800,0.9800)" d="M11 0l3 -1l2 -2l1 -3l0 -1l-1 -3l-2 -2l-3 -1l2 1l2 2l1 3l0 1l-1 3l-2 2l-2 1l-2 0l-3 -1l-2 -2l-1 -3l0 -6l1 -4l1 -2l2 -2l3 -1l3 0l2 1l1 2l0 1l-1 1l-1 -1l1 -1M9 0l-2 -1l-2 -2l-1 -3l0 -6l1 -4l1 -2l2 -2l2 -1M4 -7l1 -3l2 -2l3 -1l1 0" stroke="#000" stroke-width="1.939"/>
<path transform="translate(793.60,770.10) scale(0.9800,0.9800)" d="M8 0l4 0l3 -1l1 -1l1 -2l0 -4l-1 -2l-1 -1l-3 -1l-4 0l-3 1l-1 1l-1 2l0 4l1 2l1 1l3 1l-2 -1l-1 -1l-1 -2l0 -4l1 -2l1 -1l2 -1l-3 -1l-1 -2l0 -3l1 -2l3 -1l4 0l3 1l1 2l0 3l-1 2l-3 1l2 1l1 1l1 2l0 4l-1 2l-1 1l-2 1M8 -12l-2 -1l-1 -2l0 -3l1 -2l2 -1M12 -12l2 -1l1 -2l0 -3l-1 -2l-2 -1" stroke="#000" stroke-width="1.939"/>
<path transform="translate(236.83,804.40) scale(0.9850,0.9850)" d="M10 -21l0 21M9 -21l0 21M6 0l7 0M16 -21l1 6l0 -6l-15 0l0 6l1 -6M25 0l0 -14l-4 0M24 -14l0 14M21 0l7 0M36 0l0 -14l-4 0M35 -14l0 14M58 0l0 -11l-1 -2l-3 -1l2 1l1 2l0 11M47 -11l0 11M47 -11l2 -2l3 -1l2 0M47 -11l-1 -2l-3 -1l2 1l1 2l0 11M54 0l7 0M43 0l7 0M32 0l7 0M43 -14l-2 0l-3 1l-2 2M67 -8l12 0l0 -2l-1 -2l-1 -1l1 2l0 3M67 -8l1 -3l2 -2l2 -1l-3 1l-2 2l-1 3l0 2l1 3l2 2l3 1l2 0l3 -1l2 -2M67 -8l0 2l1 3l2 2l2 1M72 -14l3 0l2 1M102 -2l-1 2l0 -4l1 2l1 1l2 1l4 0l2 -1l1 -1l0 -3l-1 -1l-2 -1l-5 -2l-2 -1l-1 -1M111 -12l1 2l0 -4l-1 2l-1 -1l-2 -1l-4 0l-2 1l-1 1l0 2l1 1l2 1l5 2l2 1l1 1M121 0l0 -14l-4 0M120 -14l0 14M117 0l7 0M132 0l0 -14l-4 0M131 -14l0 14M143 0l0 -11l-1 -2l-3 -1l2 1l1 2l0 11M139 0l7 0M128 0l7 0M139 -14l-2 0l-3 1l-2 2M157 0l-3 -1l-2 -2l-1 -3l0 -2l1 -3l2 -2l3 -1l3 0l2 1l2 2l0 1l-1 1l-1 -1l1 -1M157 0l2 0l3 -1l2 -2M157 0l-2 -1l-2 -2l-1 -3l0 -2l1 -3l2 -2l2 -1M171 -8l12 0l0 -2l-1 -2l-1 -1l1 2l0 3M171 -8l1 -3l2 -2l2 -1l-3 1l-2 2l-1 3l0 2l1 3l2 2l3 1l2 0l3 -1l2 -2M171 -8l0 2l1 3l2 2l2 1M176 -14l3 0l2 1M206 -8l12 0l0 -2l-1 -2l-1 -1l1 2l0 3M206 -8l1 -3l2 -2l2 -1l-3 1l-2 2l-1 3l0 2l1 3l2 2l3 1l2 0l3 -1l2 -2M206 -8l0 2l1 3l2 2l2 1M211 -14l3 0l2 1M237 -14l-12 14M226 -14l11 14M225 -14l11 14M233 0l6 0M223 0l6 0M233 -14l6 0M223 -14l6 0M247 7l0 -21l-4 0M246 -14l0 21M243 7l7 0M253 0l3 -1l2 -2l1 -3l0 -2l-1 -3l-2 -2l-3 -1l2 1l2 2l1 3l0 2l-1 3l-2 2l-2 1l-2 0l-2 -1l-2 -2M253 -14l-2 0l-2 1l-2 2M268 0l0 -21l-4 0M267 -21l0 21M264 0l7 0M284 0l3 -1l2 -2l1 -3l0 -2l-1 -3l-2 -2l-3 -1l2 1l2 2l1 3l0 2l-1 3l-2 2l-2 1l-2 0l-3 -1l-2 -2l-1 -3l0 -2l1 -3l2 -2l3 -1l-2 1l-2 2l-1 3l0 2l1 3l2 2l2 1M284 -14l-2 0M297 -2l-1 2l0 -4l1 2l1 1l2 1l4 0l2 -1l1 -1l0 -3l-1 -1l-2 -1l-5 -2l-2 -1l-1 -1M306 -12l1 2l0 -4l-1 2l-1 -1l-2 -1l-4 0l-2 1l-1 1l0 2l1 1l2 1l5 2l2 1l1 1M316 0l0 -14l-4 0M315 -14l0 14M312 0l7 0M332 0l3 -1l2 -2l1 -3l0 -2l-1 -3l-2 -2l-3 -1l2 1l2 2l1 3l0 2l-1 3l-2 2l-2 1l-2 0l-3 -1l-2 -2l-1 -3l0 -2l1 -3l2 -2l3 -1l-2 1l-2 2l-1 3l0 2l1 3l2 2l2 1M332 -14l-2 0M347 0l0 -14l-4 0M346 -14l0 14M358 0l0 -11l-1 -2l-3 -1l2 1l1 2l0 11M354 0l7 0M343 0l7 0M354 -14l-2 0l-3 1l-2 2M388 5l-2 -4l-1 -3l-1 -5l0 -4l1 -5l1 -3l2 -4l-2 3l-2 4l-1 5l0 4l1 5l2 4l2 3l2 2M388 -23l2 -2M409 0l0 -21l-4 0M408 -21l0 21l4 0M402 0l-3 -1l-2 -2l-1 -3l0 -2l1 -3l2 -2l3 -1l-2 1l-2 2l-1 3l0 2l1 3l2 2l2 1l2 0l2 -1l2 -2M402 -14l2 0l2 1l2 2M428 -12l0 9l1 2l2 1l1 0M428 -12l1 2l0 7l1 2l1 1M428 -12l-1 -1l-2 -1l-4 0l-2 1l-1 1l0 1l1 0l0 -1M428 -3l-2 2l-2 1l-3 0l-3 -1l-1 -2l0 -2l1 -2l3 -1l6 -1l1 -1M421 -8l-2 1l-1 2l0 2l1 2l2 1M450 -14l-6 14l-6 -14M444 0l-2 4l-2 2l-2 1l-1 0l-1 -1l1 -1l1 1M439 -14l5 12M446 -14l6 0M436 -14l6 0M457 -2l-1 2l0 -4l1 2l1 1l2 1l4 0l2 -1l1 -1l0 -3l-1 -1l-2 -1l-5 -2l-2 -1l-1 -1M466 -12l1 2l0 -4l-1 2l-1 -1l-2 -1l-4 0l-2 1l-1 1l0 2l1 1l2 1l5 2l2 1l1 1M475 5l2 -4l1 -3l1 -5l0 -4l-1 -5l-1 -3l-2 -4l2 3l2 4l1 5l0 4l-1 5l-2 4l-2 3l-2 2M475 -23l-2 -2M25 -20l-1 1l-1 -1l1 -1l1 1M121 -20l-1 1l-1 -1l1 -1l1 1M316 -20l-1 1l-1 -1l1 -1l1 1" stroke="#000" stroke-width="1.929"/>
<path transform="translate(31.90,607.68) rotate(-90) scale(0.9830,0.9830)" d="M17 -21l-7 21l-7 -21M4 -21l6 18M13 -21l6 0M1 -21l6 0M25 -9l16 0M52 0l0 -21l-4 0M51 -21l0 21M58 0l3 -1l2 -2l1 -3l0 -2l-1 -3l-2 -2l-3 -1l2 1l2 2l1 3l0 2l-1 3l-2 2l-2 1l-2 0l-2 -1l-2 -2M58 -14l-2 0l-2 1l-2 2M81 -12l0 9l1 2l2 1l1 0M81 -12l1 2l0 7l1 2l1 1M81 -12l-1 -1l-2 -1l-4 0l-2 1l-1 1l0 1l1 0l0 -1M81 -3l-2 2l-2 1l-3 0l-3 -1l-1 -2l0 -2l1 -2l3 -1l6 -1l1 -1M74 -8l-2 1l-1 2l0 2l1 2l2 1M93 0l0 -14l-4 0M92 -14l0 14M104 0l0 -11l-1 -2l-3 -1l2 1l1 2l0 11M100 0l7 0M89 0l7 0M100 -14l-2 0l-3 1l-2 2M125 0l0 -21l-4 0M124 -21l0 21l4 0M118 0l-3 -1l-2 -2l-1 -3l0 -2l1 -3l2 -2l3 -1l-2 1l-2 2l-1 3l0 2l1 3l2 2l2 1l2 0l2 -1l2 -2M118 -14l2 0l2 1l2 2M160 -12l0 9l1 2l2 1l1 0M160 -12l1 2l0 7l1 2l1 1M160 -12l-1 -1l-2 -1l-4 0l-2 1l-1 1l0 1l1 0l0 -1M160 -3l-2 2l-2 1l-3 0l-3 -1l-1 -2l0 -2l1 -2l3 -1l6 -1l1 -1M153 -8l-2 1l-1 2l0 2l1 2l2 1M172 0l0 -21l-4 0M171 -21l0 21M178 0l3 -1l2 -2l1 -3l0 -2l-1 -3l-2 -2l-3 -1l2 1l2 2l1 3l0 2l-1 3l-2 2l-2 1l-2 0l-2 -1l-2 -2M178 -14l-2 0l-2 1l-2 2M191 -2l-1 2l0 -4l1 2l1 1l2 1l4 0l2 -1l1 -1l0 -3l-1 -1l-2 -1l-5 -2l-2 -1l-1 -1M200 -12l1 2l0 -4l-1 2l-1 -1l-2 -1l-4 0l-2 1l-1 1l0 2l1 1l2 1l5 2l2 1l1 1M215 0l3 -1l2 -2l1 -3l0 -2l-1 -3l-2 -2l-3 -1l2 1l2 2l1 3l0 2l-1 3l-2 2l-2 1l-2 0l-3 -1l-2 -2l-1 -3l0 -2l1 -3l2 -2l3 -1l-2 1l-2 2l-1 3l0 2l1 3l2 2l2 1M215 -14l-2 0M230 0l0 -21l-4 0M229 -21l0 21M226 0l7 0M252 0l0 -14l-4 0M251 -14l0 14l4 0M240 -14l0 11l1 2l3 1l2 0l3 -1l2 -2M237 -14l4 0l0 11l1 2l2 1M263 -21l0 17l1 3l1 1l2 0l2 -1l1 -2M262 -21l0 17l1 3l2 1M259 -14l8 0M276 -8l12 0l0 -2l-1 -2l-1 -1l1 2l0 3M276 -8l1 -3l2 -2l2 -1l-3 1l-2 2l-1 3l0 2l1 3l2 2l3 1l2 0l3 -1l2 -2M276 -8l0 2l1 3l2 2l2 1M281 -14l3 0l2 1M313 0l0 -14l-4 0M312 -14l0 14M335 0l0 -11l-1 -2l-3 -1l2 1l1 2l0 11M324 -11l0 11M324 -11l2 -2l3 -1l2 0M324 -11l-1 -2l-3 -1l2 1l1 2l0 11M331 0l7 0M320 0l7 0M309 0l7 0M320 -14l-2 0l-3 1l-2 2M354 -12l0 9l1 2l2 1l1 0M354 -12l1 2l0 7l1 2l1 1M354 -12l-1 -1l-2 -1l-4 0l-2 1l-1 1l0 1l1 0l0 -1M354 -3l-2 2l-2 1l-3 0l-3 -1l-1 -2l0 -2l1 -2l3 -1l6 -1l1 -1M347 -8l-2 1l-1 2l0 2l1 2l2 1M366 0l-3 1l-1 2l0 1l1 2l3 1l6 0l3 -1l1 -2l0 -1l-1 -2l-3 -1l-5 0l-3 -1l-1 -1l1 2l3 1l5 0l3 1l1 1M363 -2l0 -1l1 -2l1 -1l-1 -2l0 -2l1 -2l1 -1l-1 2l0 4l1 2l2 1l2 0l2 -1l1 -2l0 -4l-1 -2l-2 -1l-2 0l-2 1M372 -5l1 -1l1 -2l0 -2l-1 -2l1 -1l2 0l0 -1l-2 1M366 -5l-1 -1M373 -12l-1 -1M385 0l0 -14l-4 0M384 -14l0 14M396 0l0 -11l-1 -2l-3 -1l2 1l1 2l0 11M392 0l7 0M381 0l7 0M392 -14l-2 0l-3 1l-2 2M407 0l0 -14l-4 0M406 -14l0 14M403 0l7 0M418 -21l0 17l1 3l1 1l2 0l2 -1l1 -2M417 -21l0 17l1 3l2 1M414 -14l8 0M444 0l0 -14l-4 0M443 -14l0 14l4 0M432 -14l0 11l1 2l3 1l2 0l3 -1l2 -2M429 -14l4 0l0 11l1 2l2 1M465 0l0 -21l-4 0M464 -21l0 21l4 0M458 0l-3 -1l-2 -2l-1 -3l0 -2l1 -3l2 -2l3 -1l-2 1l-2 2l-1 3l0 2l1 3l2 2l2 1l2 0l2 -1l2 -2M458 -14l2 0l2 1l2 2M474 -8l12 0l0 -2l-1 -2l-1 -1l1 2l0 3M474 -8l1 -3l2 -2l2 -1l-3 1l-2 2l-1 3l0 2l1 3l2 2l3 1l2 0l3 -1l2 -2M474 -8l0 2l1 3l2 2l2 1M479 -14l3 0l2 1M407 -20l-1 1l-1 -1l1 -1l1 1" stroke="#000" stroke-width="1.933"/>
<path d="M489.5 396.6H601.5" stroke="#ff0000" stroke-width="2.1" stroke-linecap="butt"/>
<path transform="translate(620.58,397.00) scale(1.1700,1.1900)" d="M11 0l0 -21l-3 3l-2 1M10 -20l0 20M6.5 0l8 0M31 0l3 -1l2 -3l1 -5l0 -3l-1 -5l-2 -3l-3 -1l2 1l1 1l1 2l1 5l0 3l-1 5l-1 2l-1 1l-2 1l-2 0l-3 -1l-2 -3l-1 -5l0 -3l1 -5l2 -3l3 -1l-2 1l-1 1l-1 2l-1 5l0 3l1 5l1 2l1 1l2 1M31 -21l-2 0" stroke="#ff0000" stroke-width="1.610"/>
<path transform="translate(668.01,385.40) scale(0.7300,0.7300)" d="M10 0l-3 0l-2 -1l-1 -2l0 -1l1 -1l1 1l-1 1M10 0l3 -1l2 -2l1 -2l1 -4l0 -6l-1 -3l-2 -2l-3 -1l2 1l2 2l1 3l0 6l-1 4l-1 2l-2 2l-2 1M9 -8l-3 -1l-2 -2l-1 -3l0 -1l1 -3l2 -2l3 -1l-2 1l-2 2l-1 3l0 1l1 3l2 2l2 1l1 0l3 -1l2 -2l1 -3M11 -21l-2 0" stroke="#ff0000" stroke-width="2.740"/>
<path transform="translate(700.82,397.00) scale(1.1600,1.1900)" d="M9 0l-3 -1l-2 -2l-1 -3l0 -2l1 -3l2 -2l3 -1l3 0l2 1l2 2l0 1l-1 1l-1 -1l1 -1M9 0l2 0l3 -1l2 -2M9 0l-2 -1l-2 -2l-1 -3l0 -2l1 -3l2 -2l2 -1M25 0l0 -14l-4 0M24 -14l0 14M47 0l0 -11l-1 -2l-3 -1l2 1l1 2l0 11M36 -11l0 11M36 -11l2 -2l3 -1l2 0M36 -11l-1 -2l-3 -1l2 1l1 2l0 11M43 0l7 0M32 0l7 0M21 0l7 0M32 -14l-2 0l-3 1l-2 2" stroke="#ff0000" stroke-width="1.617"/>
<path d="M489.5 438.5H601.5" stroke="#2b8f35" stroke-width="2.1" stroke-linecap="butt"/>
<path transform="translate(620.58,438.90) scale(1.1700,1.1900)" d="M11 0l0 -21l-3 3l-2 1M10 -20l0 20M6.5 0l8 0M31 0l3 -1l2 -3l1 -5l0 -3l-1 -5l-2 -3l-3 -1l2 1l1 1l1 2l1 5l0 3l-1 5l-1 2l-1 1l-2 1l-2 0l-3 -1l-2 -3l-1 -5l0 -3l1 -5l2 -3l3 -1l-2 1l-1 1l-1 2l-1 5l0 3l1 5l1 2l1 1l2 1M31 -21l-2 0" stroke="#2b8f35" stroke-width="1.610"/>
<path transform="translate(666.96,427.30) scale(0.6900,0.7300)" d="M11 0l0 -21l-3 3l-2 1M10 -20l0 20M6.5 0l8 0M31 0l3 -1l2 -3l1 -5l0 -3l-1 -5l-2 -3l-3 -1l2 1l1 1l1 2l1 5l0 3l-1 5l-1 2l-1 1l-2 1l-2 0l-3 -1l-2 -3l-1 -5l0 -3l1 -5l2 -3l3 -1l-2 1l-1 1l-1 2l-1 5l0 3l1 5l1 2l1 1l2 1M31 -21l-2 0" stroke="#2b8f35" stroke-width="2.817"/>
<path transform="translate(715.52,438.90) scale(1.1600,1.1900)" d="M9 0l-3 -1l-2 -2l-1 -3l0 -2l1 -3l2 -2l3 -1l3 0l2 1l2 2l0 1l-1 1l-1 -1l1 -1M9 0l2 0l3 -1l2 -2M9 0l-2 -1l-2 -2l-1 -3l0 -2l1 -3l2 -2l2 -1M25 0l0 -14l-4 0M24 -14l0 14M47 0l0 -11l-1 -2l-3 -1l2 1l1 2l0 11M36 -11l0 11M36 -11l2 -2l3 -1l2 0M36 -11l-1 -2l-3 -1l2 1l1 2l0 11M43 0l7 0M32 0l7 0M21 0l7 0M32 -14l-2 0l-3 1l-2 2" stroke="#2b8f35" stroke-width="1.617"/>
<path d="M489.5 480.4H601.5" stroke="#2d5aa2" stroke-width="2.1" stroke-linecap="butt"/>
<path transform="translate(620.58,480.80) scale(1.1700,1.1900)" d="M11 0l0 -21l-3 3l-2 1M10 -20l0 20M6.5 0l8 0M31 0l3 -1l2 -3l1 -5l0 -3l-1 -5l-2 -3l-3 -1l2 1l1 1l1 2l1 5l0 3l-1 5l-1 2l-1 1l-2 1l-2 0l-3 -1l-2 -3l-1 -5l0 -3l1 -5l2 -3l3 -1l-2 1l-1 1l-1 2l-1 5l0 3l1 5l1 2l1 1l2 1M31 -21l-2 0" stroke="#2d5aa2" stroke-width="1.610"/>
<path transform="translate(666.96,469.20) scale(0.6900,0.7300)" d="M11 0l0 -21l-3 3l-2 1M10 -20l0 20M6.5 0l8 0M31 0l0 -21l-3 3l-2 1M30 -20l0 20M26.5 0l8 0" stroke="#2d5aa2" stroke-width="2.817"/>
<path transform="translate(715.52,480.80) scale(1.1600,1.1900)" d="M9 0l-3 -1l-2 -2l-1 -3l0 -2l1 -3l2 -2l3 -1l3 0l2 1l2 2l0 1l-1 1l-1 -1l1 -1M9 0l2 0l3 -1l2 -2M9 0l-2 -1l-2 -2l-1 -3l0 -2l1 -3l2 -2l2 -1M25 0l0 -14l-4 0M24 -14l0 14M47 0l0 -11l-1 -2l-3 -1l2 1l1 2l0 11M36 -11l0 11M36 -11l2 -2l3 -1l2 0M36 -11l-1 -2l-3 -1l2 1l1 2l0 11M43 0l7 0M32 0l7 0M21 0l7 0M32 -14l-2 0l-3 1l-2 2" stroke="#2d5aa2" stroke-width="1.617"/>
<path d="M489.5 522.2H601.5" stroke="#9a30cc" stroke-width="2.1" stroke-linecap="butt"/>
<path transform="translate(620.58,522.60) scale(1.1700,1.1900)" d="M11 0l0 -21l-3 3l-2 1M10 -20l0 20M6.5 0l8 0M31 0l3 -1l2 -3l1 -5l0 -3l-1 -5l-2 -3l-3 -1l2 1l1 1l1 2l1 5l0 3l-1 5l-1 2l-1 1l-2 1l-2 0l-3 -1l-2 -3l-1 -5l0 -3l1 -5l2 -3l3 -1l-2 1l-1 1l-1 2l-1 5l0 3l1 5l1 2l1 1l2 1M31 -21l-2 0" stroke="#9a30cc" stroke-width="1.610"/>
<path transform="translate(666.96,511.00) scale(0.6900,0.7300)" d="M11 0l0 -21l-3 3l-2 1M10 -20l0 20M6.5 0l8 0M26 -3l5 3l4 0l1 -1l1 -2l0 -2M26 -3l5 2l3 0l2 -1l1 -1M26 -3l-2 0l-1 1M28 -9l5 -2l3 -2l1 -2l0 -2l-1 -2l-1 -1l-3 -1l-4 0l-3 1l-1 1l-1 2l0 1l1 1l1 -1l-1 -1M32 -21l2 1l1 1l1 2l0 2l-1 2l-3 2l-6 3l-2 2l-1 3l0 3" stroke="#9a30cc" stroke-width="2.817"/>
<path transform="translate(715.52,522.60) scale(1.1600,1.1900)" d="M9 0l-3 -1l-2 -2l-1 -3l0 -2l1 -3l2 -2l3 -1l3 0l2 1l2 2l0 1l-1 1l-1 -1l1 -1M9 0l2 0l3 -1l2 -2M9 0l-2 -1l-2 -2l-1 -3l0 -2l1 -3l2 -2l2 -1M25 0l0 -14l-4 0M24 -14l0 14M47 0l0 -11l-1 -2l-3 -1l2 1l1 2l0 11M36 -11l0 11M36 -11l2 -2l3 -1l2 0M36 -11l-1 -2l-3 -1l2 1l1 2l0 11M43 0l7 0M32 0l7 0M21 0l7 0M32 -14l-2 0l-3 1l-2 2" stroke="#9a30cc" stroke-width="1.617"/>
<path transform="translate(509.49,606.00) scale(1.1550,1.1900)" d="M20 -21l0 21M19 -21l0 21M19 -21l-7 21l-7 -21l0 21M19 -21l4 0M12 -3l-6 -18l-4 0M16 0l7 0M2 0l6 0" stroke="#000" stroke-width="1.620"/>
<path transform="translate(537.99,617.60) scale(0.6700,0.6700)" d="M4 -8l12 0l0 -2l-1 -2l-1 -1l1 2l0 3M4 -8l1 -3l2 -2l2 -1l-3 1l-2 2l-1 3l0 2l1 3l2 2l3 1l2 0l3 -1l2 -2M4 -8l0 2l1 3l2 2l2 1M9 -14l3 0l2 1" stroke="#000" stroke-width="2.985"/>
<path transform="translate(552.28,606.00) scale(1.1550,1.1900)" d="M4 -6.2l18 0M4 -12.5l18 0" stroke="#000" stroke-width="1.620"/>
<path transform="translate(581.83,606.00) scale(1.1550,1.1900)" d="M11 0l3 -1l2 -3l1 -5l0 -3l-1 -5l-2 -3l-3 -1l2 1l1 1l1 2l1 5l0 3l-1 5l-1 2l-1 1l-2 1l-2 0l-3 -1l-2 -3l-1 -5l0 -3l1 -5l2 -3l3 -1l-2 1l-1 1l-1 2l-1 5l0 3l1 5l1 2l1 1l2 1M11 -21l-2 0" stroke="#000" stroke-width="1.620"/>
<path transform="translate(606.08,606.00) scale(1.1550,1.1900)" d="M6 -1l-1 1l-1 -1l1 -1l1 1" stroke="#000" stroke-width="1.620"/>
<path transform="translate(617.33,606.00) scale(1.1550,1.1900)" d="M12 0l-4 0l-3 -1l-1 -1l-1 -2l0 -1l1 -1l1 1l-1 1M12 0l3 -1l1 -1l1 -2l0 -3l-1 -2l-2 -2l-2 -1l-3 0M12 0l2 -1l1 -1l1 -2l0 -3l-1 -3M12 -21l-4 0l-3 1l-1 1l-1 2l0 1l1 1l1 -1l-1 -1M12 -21l3 1l1 2l0 3l-1 2l-3 1l2 -1l1 -2l0 -3l-1 -2l-2 -1" stroke="#000" stroke-width="1.620"/>
<path transform="translate(641.49,606.00) scale(1.1550,1.1900)" d="M20 -21l0 21M19 -21l0 21M19 -21l-7 21l-7 -21l0 21M19 -21l4 0M12 -3l-6 -18l-4 0M16 0l7 0M2 0l6 0" stroke="#000" stroke-width="1.620"/>
<circle cx="680.4" cy="610.2" r="7.8" stroke="#000" stroke-width="2.2"/><circle cx="680.4" cy="610.2" r="2.1" fill="#000" stroke="none"/>
</g>
</svg></body></html>
